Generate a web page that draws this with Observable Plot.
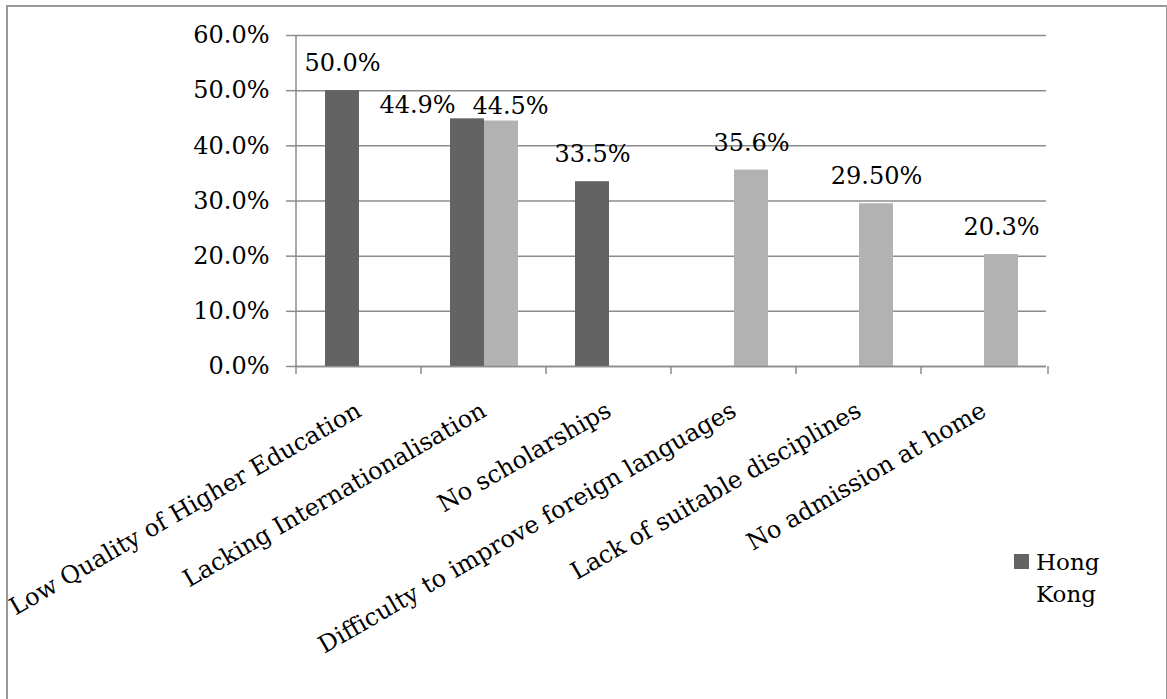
<!DOCTYPE html>
<html>
<head>
<meta charset="utf-8">
<script src="https://cdn.jsdelivr.net/npm/d3@7"></script>
<script src="https://cdn.jsdelivr.net/npm/@observablehq/plot@0.6"></script>
<style>
  body { margin: 0; background: #fff; }
  #wrap { position: relative; width: 1167px; height: 699px; overflow: hidden; font-family: "DejaVu Serif", serif; background: #fff; }
  #chart { position: absolute; left: 0; top: 0; }
  #frame { position: absolute; left: 6px; top: 5px; width: 1158px; height: 800px; border: 2px solid #999; pointer-events: none; }
  #legend { position: absolute; left: 1014px; top: 546px; }
  #legend .sw { position: absolute; left: 0; top: 8px; width: 15px; height: 15px; background: #636363; }
  #legend .lt { position: absolute; left: 22px; top: 0; width: 80px; font-size: 23px; line-height: 32px; color: #000; }
</style>
</head>
<body>
<div id="wrap">
  <div id="chart"></div>
  <div id="legend"><span class="sw"></span><span class="lt">Hong Kong</span></div>
  <div id="frame"></div>
</div>
<script>
// ---- data ----
const categories = [
  "Low Quality of Higher Education",
  "Lacking Internationalisation",
  "No scholarships",
  "Difficulty to improve foreign languages",
  "Lack of suitable disciplines",
  "No admission at home"
];
const seriesNames = ["Hong Kong", "Series 2"];
const hongKongValues = [0.500, 0.449, 0.335, null, null, null];
const series2Values  = [null, 0.445, null, 0.356, 0.295, 0.203];
const hongKongLabels = ["50.0%", "44.9%", "33.5%", null, null, null];
const series2Labels  = [null, "44.5%", null, "35.6%", "29.50%", "20.3%"];
const yTicks = [0, 0.1, 0.2, 0.3, 0.4, 0.5, 0.6];

// ---- table ----
const rows = [];
categories.forEach((c, i) => {
  if (hongKongValues[i] != null) rows.push({category: c, series: seriesNames[0], value: hongKongValues[i], label: hongKongLabels[i]});
  if (series2Values[i] != null) rows.push({category: c, series: seriesNames[1], value: series2Values[i], label: series2Labels[i]});
});
const crowded = d => d.category === categories[1];

const gridColor = "#8c8c8c";
const font = '"DejaVu Serif", serif';
const fs = 24;
const textOpts = {fx: "category", x: "series", y: "value", text: "label", fontSize: fs, fill: "#000"};

const plot = Plot.plot({
  width: 1167,
  height: 699,
  marginLeft: 293,
  marginRight: 119,
  marginTop: 35,
  marginBottom: 333,
  style: {fontFamily: font, fontSize: fs + "px", color: "#000", background: "transparent"},
  fx: {domain: categories, paddingInner: 0, paddingOuter: 0},
  x: {domain: seriesNames, paddingInner: 0, paddingOuter: 0.8, axis: null},
  y: {domain: [0, 0.6]},
  color: {domain: seriesNames, range: ["#636363", "#b2b2b2"]},
  marks: [
    Plot.gridY(yTicks, {stroke: gridColor, strokeOpacity: 1, strokeWidth: 1.5}),
    Plot.axisY(yTicks, {tickFormat: d3.format(".1%"), tickSize: 10, tickPadding: 17, stroke: gridColor, strokeWidth: 1.5, label: null, fontSize: fs}),
    Plot.barY(rows, {fx: "category", x: "series", y: "value", fill: "series"}),
    Plot.ruleY([0], {stroke: gridColor, strokeWidth: 1.5}),
    Plot.text(rows.filter(d => !crowded(d)), {...textOpts, dy: -27}),
    Plot.text(rows.filter(d => crowded(d) && d.series === seriesNames[0]), {...textOpts, dx: -50, dy: -13}),
    Plot.text(rows.filter(d => crowded(d) && d.series === seriesNames[1]), {...textOpts, dx: 9, dy: -15}),
    Plot.axisFx({anchor: "bottom", tickRotate: -30, tickSize: 0, tickPadding: 42, label: null, fontSize: fs})
  ]
});

// y-axis line and category-boundary tick marks, placed through Plot's scales
const fx = plot.scale("fx");
const y = plot.scale("y");
const y0 = y.apply(0), yTop = y.apply(0.6);
const edges = categories.map(c => fx.apply(c));
edges.push(fx.range[1]);
const g = d3.select(plot).append("g").attr("stroke", gridColor).attr("stroke-width", 1.5);
g.append("line").attr("x1", edges[0]).attr("x2", edges[0]).attr("y1", yTop).attr("y2", y0 + 8);
edges.slice(1).forEach(x => g.append("line").attr("x1", x).attr("x2", x).attr("y1", y0).attr("y2", y0 + 8));

document.getElementById("chart").appendChild(plot);
</script>
</body>
</html>
